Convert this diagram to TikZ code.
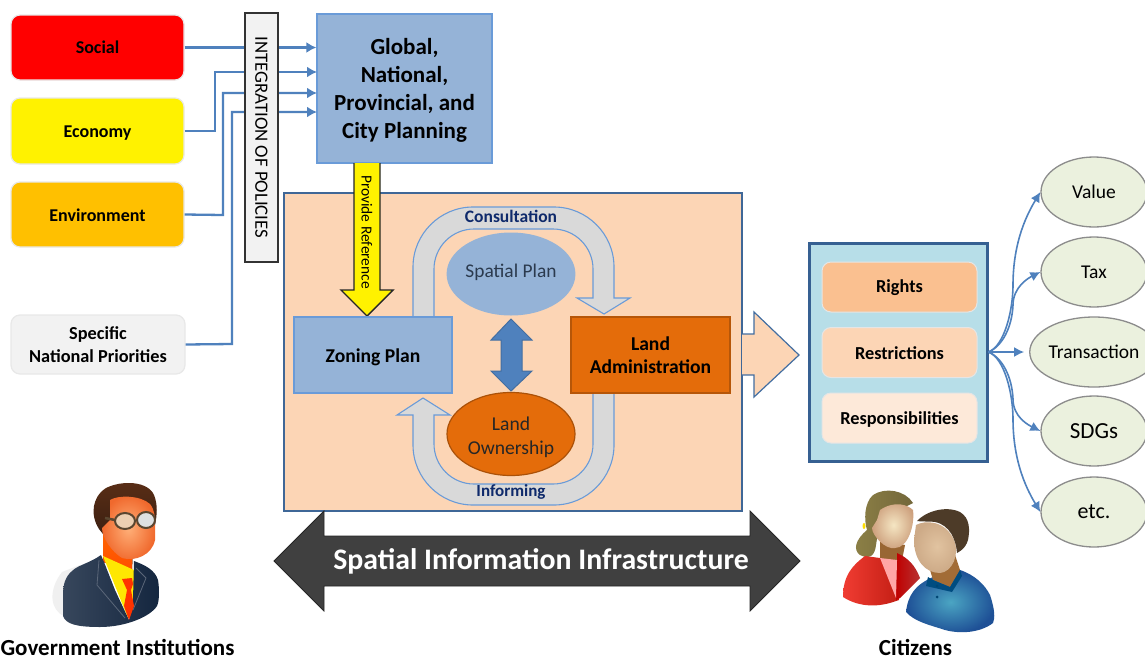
\documentclass[tikz,border=0pt]{standalone}
\usepackage{fontspec}
\setmainfont{Carlito}
\usetikzlibrary{arrows.meta,shapes.geometric}
\definecolor{cblue}{HTML}{95B3D7}
\definecolor{cedge}{HTML}{6A9BD8}
\definecolor{cline}{HTML}{4F81BD}
\definecolor{corange}{HTML}{E46C0A}
\definecolor{cpeach}{HTML}{FCD5B5}
\definecolor{cnavy}{HTML}{0F2A6B}
\definecolor{cslate}{HTML}{2B3A4E}
\definecolor{coval}{HTML}{EBF1DE}
\definecolor{csuit}{HTML}{14263F}
\definecolor{cglass}{HTML}{5A4630}
\definecolor{cmhair}{HTML}{4D3B28}
\newcommand{\fs}[1]{\fontsize{#1}{#1}\selectfont}
\newcommand{\dn}[2]{\raisebox{-#1pt}[\height][\depth]{#2}}
\tikzset{
  x=1pt,y=-1pt,
  src/.style={draw=black!9,line width=1.2pt,rounded corners=9pt,minimum width=173pt,inner sep=0pt,align=center,font=\fs{18}\bfseries},
  link/.style={draw=cline,line width=2.3pt,-{Latex[length=10pt,width=11pt]}},
  planbox/.style={draw=cedge,line width=1.3pt,fill=cblue,inner sep=0pt,align=center},
  adminbox/.style={draw=corange!80!black,line width=1.3pt,fill=corange,inner sep=0pt,align=center},
  uarrow/.style={fill=black!15,draw=cedge,line width=1.1pt,line join=miter},
  tenure/.style={rounded corners=9pt,draw=white!80!gray,line width=1pt,minimum width=155pt,minimum height=50pt,inner sep=0pt,font=\fs{18.3}\bfseries},
  oval/.style={ellipse,draw=black!45,line width=1.3pt,fill=coval,minimum width=106pt,minimum height=70pt,inner sep=0pt,font=\fs{19.5}},
  fan/.style={draw=cline,line width=1.6pt,-{Latex[length=10pt,width=10pt]}},
  caption/.style={font=\fs{23}\bfseries,inner sep=0pt}
}
\begin{document}
\begin{tikzpicture}
\clip (0,0) rectangle (1145,659);
\fill[white] (0,0) rectangle (1145,659);
% sources
\node[src,fill=red,minimum height=65pt] (social) at (97.5,47.5) {Social};
\node[src,fill=yellow,minimum height=66pt] (economy) at (97.5,131) {\dn{2}{Economy}};
\node[src,fill={rgb,255:red,255;green,192;blue,0},minimum height=65pt] (environment) at (97.5,214.5) {\dn{1}{Environment}};
\node[src,fill=black!5,minimum height=59pt,minimum width=174pt,font=\fs{18.3}\bfseries] (national) at (98,344.5) {Specific\\[4pt]National Priorities};
% planning
\node[planbox,minimum width=175pt,minimum height=149pt,font=\fs{23}\bfseries] (global) at (404.5,88.5) {\dn{2}{Global,}\\[5pt]\dn{2}{National,}\\[5pt]\dn{2}{Provincial, and}\\[5pt]\dn{2}{City Planning}};
\coordinate (g1) at (global.west |- social.east);
\coordinate (g2) at (317,72);
\coordinate (g3) at (317,93);
\coordinate (g4) at (317,112);
\draw[link] (social.east) -- (g1);
\draw[link] (economy.east) -- (215,131) -- (215,72) -- (g2);
\draw[link] (environment.east) -- (223,215) -- (223,93) -- (g3);
\draw[link] (national.east) -- (232,344) -- (232,112) -- (g4);
\node[draw=black!80,line width=1.3pt,fill=black!5,minimum width=249pt,minimum height=33pt,inner sep=0pt,rotate=-90,font=\fs{18.8}] (integration) at (261.5,137.5) {INTEGRATION OF POLICIES};
% main panel
\node[draw=cline!80!black,line width=1.2pt,fill=cpeach,minimum width=458pt,minimum height=318pt,inner sep=0pt] (panel) at (513,352) {};
% block arrow to output
\path[fill=cpeach] (742,334) -- (754,334) -- (754,312) -- (799,355) -- (754,397) -- (754,375) -- (742,375) -- cycle;
\draw[draw=cline!85!black,line width=1.2pt,line join=miter] (742,334) -- (754,334) -- (754,312) -- (799,355) -- (754,397) -- (754,375) -- (742,375);
% provide reference arrow
\draw[fill=yellow,draw=black!85,line width=1.4pt,line join=miter] (354,163) -- (354,290) -- (341,290) -- (367,316) -- (393,290) -- (380,290) -- (380,163);
\node[rotate=-90,font=\fs{15.4},inner sep=0pt] (reference) at (367,232) {Provide Reference};
% loop arrows
\path[uarrow,draw=none] (413,317) -- (413,267) .. controls (413,234) and (440,207) .. (473,207) -- (554,207) .. controls (587,207) and (614,234) .. (614,267) -- (614,298) -- (630,298) -- (604,314) -- (577,298) -- (593,298) -- (593,269) .. controls (593,247) and (575,229) .. (553,229) -- (474,229) .. controls (452,229) and (434,247) .. (434,269) -- (434,317) -- cycle;
\draw[uarrow,fill=none] (413,317) -- (413,267) .. controls (413,234) and (440,207) .. (473,207) -- (554,207) .. controls (587,207) and (614,234) .. (614,267) -- (614,298) -- (630,298) -- (604,314) -- (577,298) -- (593,298) -- (593,269) .. controls (593,247) and (575,229) .. (553,229) -- (474,229) .. controls (452,229) and (434,247) .. (434,269) -- (434,317);
\path[uarrow,draw=none] (614,393) -- (614,445) .. controls (614,478) and (587,505) .. (554,505) -- (473,505) .. controls (440,505) and (413,478) .. (413,445) -- (413,415) -- (397,415) -- (423,398) -- (450,415) -- (434,415) -- (434,444) .. controls (434,466) and (452,484) .. (474,484) -- (553,484) .. controls (575,484) and (593,466) .. (593,444) -- (593,393) -- cycle;
\draw[uarrow,fill=none] (614,393) -- (614,445) .. controls (614,478) and (587,505) .. (554,505) -- (473,505) .. controls (440,505) and (413,478) .. (413,445) -- (413,415) -- (397,415) -- (423,398) -- (450,415) -- (434,415) -- (434,444) .. controls (434,466) and (452,484) .. (474,484) -- (553,484) .. controls (575,484) and (593,466) .. (593,444) -- (593,393);
\node[font=\fs{17.5}\bfseries,text=cnavy,inner sep=0pt] (consultation) at (511,216.5) {Consultation};
\node[font=\fs{17}\bfseries,text=cnavy,inner sep=0pt] (informing) at (511,491.5) {Informing};
\node[planbox,minimum width=158pt,minimum height=76pt,font=\fs{19.6}\bfseries] (zoning) at (373,355) {\dn{2}{Zoning Plan}};
\node[adminbox,minimum width=159pt,minimum height=76pt,font=\fs{19.6}\bfseries] (admin) at (650.5,355) {Land\\[4pt]Administration};
\node[ellipse,fill=cblue,minimum width=127pt,minimum height=83pt,inner sep=0pt,font=\fs{19.4},text=cslate] (spatial) at (511,274) {\dn{-2}{Spatial Plan}};
\node[ellipse,fill=corange,draw=corange!75!black,line width=1.2pt,minimum width=128pt,minimum height=83pt,inner sep=0pt,font=\fs{19.6},text=black!85,align=center] (ownership) at (511,434) {\dn{3}{Land}\\[4.5pt]\dn{3}{Ownership}};
\draw[fill=cline,draw=cline!85!black,line width=1pt,line join=miter] (511,319) -- (532,340) -- (522,340) -- (522,371) -- (532,371) -- (511,391) -- (491,371) -- (501,371) -- (501,340) -- (491,340) -- cycle;
% outcome box
\node[draw={rgb,255:red,54;green,96;blue,146},line width=3pt,fill={rgb,255:red,183;green,222;blue,232},minimum width=178pt,minimum height=218pt,inner sep=0pt] (rrr) at (898,352) {};
\node[tenure,fill={rgb,255:red,250;green,192;blue,144}] (rights) at (899.5,287) {\dn{1}{Rights}};
\node[tenure,fill=cpeach] (restrictions) at (899.5,352.5) {\dn{1}{Restrictions}};
\node[tenure,fill={rgb,255:red,253;green,233;blue,217}] (responsibilities) at (899.5,418) {\dn{1}{Responsibilities}};
% ovals
\node[oval] (value) at (1094,192) {Value};
\node[oval] (tax) at (1094,272) {Tax};
\node[oval] (transaction) at (1094,352) {Transaction};
\node[oval,font=\fs{23}] (sdgs) at (1094,431) {SDGs};
\node[oval,font=\fs{22}] (etc) at (1094,512) {etc.};
\draw[fan] (rrr.east) .. controls +(16,-6) and +(0,25) .. (1013,285) .. controls +(0,-45) and +(-12,20) .. (value.west);
\draw[fan] (rrr.east) .. controls +(14,-6) and +(-1,22) .. (1013,305) .. controls +(0,-18) and +(-12,6) .. (tax.west);
\draw[fan,shorten >=5pt] (rrr.east) -- (transaction.west);
\draw[fan] (rrr.east) .. controls +(14,6) and +(-1,-22) .. (1013,399) .. controls +(0,18) and +(-12,-6) .. (sdgs.west);
\draw[fan] (rrr.east) .. controls +(16,6) and +(0,-25) .. (1013,419) .. controls +(0,45) and +(-12,-20) .. (etc.west);
% big arrow
\path[fill=black!75,draw=black!85,line width=.8pt] (274,561) -- (324,511) -- (324,536) -- (750,536) -- (750,511) -- (800,561) -- (750,611) -- (750,586) -- (324,586) -- (324,611) -- cycle;
\node[text=white,font=\fs{29.8}\bfseries,inner sep=0pt] (sii) at (541,561) {Spatial Information Infrastructure};
% government person
\begin{scope}
\fill[black!6] (62,572) .. controls (48,590) and (50,610) .. (64,616) -- (80,590) -- (80,565) -- cycle;
\fill[top color=orange!80!red,bottom color=orange!60!red] (103,530) -- (103,562) -- (132,572) -- (133,540) -- cycle;
\fill[yellow!90!orange] (103,556) -- (134,570) -- (134,602) -- (128,618) -- cycle;
\path[shade,left color=csuit!85!white,right color=csuit] (101,555) .. controls (90,563) and (78,565) .. (72,571) .. controls (65,577) and (63,585) .. (63,595) -- (63,616) .. controls (66,624) and (76,627) .. (100,627) .. controls (125,627) and (150,617) .. (157,606) .. controls (160,600) and (159,585) .. (158,580) .. controls (155,570) and (145,565) .. (134,561) -- (133,600) -- (129,620) -- (115,590) -- (104,562) -- cycle;
\draw[csuit!70!white,line width=.8pt] (99,560) -- (97,585) -- (125,618);
\draw[csuit!70!white,line width=.8pt] (136,568) -- (146,578) -- (133,610);
\fill[red!60!orange] (122,579) -- (132,578) -- (133,584) -- (131,590) -- (134,606) -- (129,620) -- (124,606) -- (127,590) -- cycle;
\path[shade,top color={rgb,255:red,90;green,46;blue,22},bottom color={rgb,255:red,60;green,32;blue,18}] (99,529) .. controls (90,515) and (92,497) .. (106,488) .. controls (122,480) and (148,481) .. (154,495) .. controls (158,505) and (157,515) .. (155,525) -- (110,525) -- (103,534) -- cycle;
\path[shade,inner color={rgb,255:red,255;green,175;blue,120},outer color={rgb,255:red,240;green,105;blue,45}] (110,500) .. controls (118,495) and (140,495) .. (150,504) .. controls (155,510) and (155,518) .. (155,525) -- (155,540) .. controls (152,555) and (135,562) .. (122,558) .. controls (112,552) and (102,538) .. (102,528) -- (110,520) -- cycle;
\draw[draw=cglass,line width=2pt,fill=black!25!orange!30] (125,521) ellipse [x radius=10,y radius=8];
\draw[draw=cglass,line width=2pt,fill=cyan!10!black!15] (146,520) ellipse [x radius=9,y radius=8];
\draw[draw=cglass,line width=2.5pt] (115,520) -- (105,518);
\end{scope}
\node[caption] (government) at (117.5,647) {Government Institutions};
% citizens
\begin{scope}
\path[shade,left color={rgb,255:red,140;green,128;blue,70},right color={rgb,255:red,115;green,103;blue,58}] (913,503) .. controls (905,490) and (885,487) .. (873,495) .. controls (864,503) and (864,520) .. (867,530) .. controls (855,540) and (853,550) .. (860,555) .. controls (870,560) and (875,555) .. (876,545) -- (880,520) -- cycle;
\fill[yellow!80!orange] (864,526) ellipse [x radius=1.5,y radius=3];
\fill[brown!80!black] (880,540) -- (880,560) -- (900,570) -- (905,545) -- cycle;
\path[shade,left color={rgb,255:red,240;green,60;blue,50},right color={rgb,255:red,195;green,30;blue,20}] (843,597) .. controls (843,575) and (853,565) .. (865,556) -- (880,558) -- (897,562) -- (899,600) -- (896,601) .. controls (880,607) and (860,608) .. (843,597) -- cycle;
\path[shade,left color=red!75!black,right color=red!65!black!80] (897,553) .. controls (908,558) and (915,565) .. (920,578) -- (900,598) -- (896,600) -- (897,562) -- cycle;
\fill[red!35!white] (880,558) -- (897,560) -- (896,598) -- cycle;
\path[shade,inner color={rgb,255:red,245;green,230;blue,195},outer color={rgb,255:red,205;green,160;blue,125}] (880,510) .. controls (895,500) and (908,505) .. (913,510) .. controls (915,525) and (908,548) .. (895,548) .. controls (885,550) and (872,535) .. (872,528) -- (877,520) -- cycle;
\path[shade,inner color={rgb,255:red,75;green,165;blue,195},outer color={rgb,255:red,30;green,80;blue,150}] (906,612) .. controls (908,595) and (915,585) .. (933,577) -- (960,570) .. controls (975,575) and (985,585) .. (990,595) .. controls (995,610) and (995,618) .. (993,623) .. controls (980,633) and (960,634) .. (945,630) .. controls (930,625) and (915,622) .. (906,612) -- cycle;
\fill[brown!85!black] (930,570) -- (933,580) -- (950,587) -- (960,570) -- (955,555) -- (935,560) -- cycle;
\fill[blue!40!cyan!50!black] (928,577) -- (933,580) -- (950,587) -- (960,570) -- (962,576) -- (952,592) -- (926,586) -- cycle;
\fill[blue!40!cyan!45!black] (937,586) circle [radius=1.5] (937,597) circle [radius=1.5];
\path[shade,inner color={rgb,255:red,225;green,195;blue,160},outer color={rgb,255:red,205;green,170;blue,135}] (916,525) .. controls (925,520) and (945,520) .. (954,540) .. controls (960,555) and (952,572) .. (940,573) .. controls (925,573) and (914,560) .. (914,540) -- cycle;
\fill[cmhair] (917,521) .. controls (925,512) and (945,505) .. (960,512) .. controls (970,518) and (970,530) .. (968,540) .. controls (965,550) and (958,552) .. (957,553) .. controls (956,540) and (950,525) .. (935,522) .. controls (930,521) and (922,522) .. (917,521) -- cycle;
\end{scope}
\node[caption] (citizens) at (915.5,647) {Citizens};
\end{tikzpicture}
\end{document}
